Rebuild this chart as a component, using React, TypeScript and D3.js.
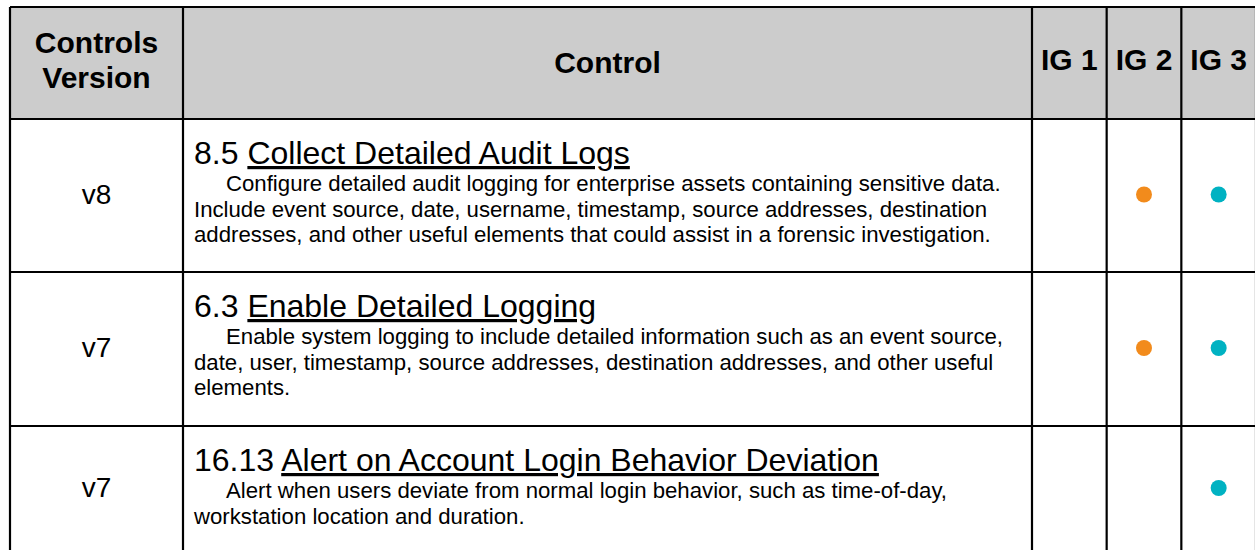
import React from "react";
import * as d3 from "d3";

// table content
const headers = ["Controls Version", "Control", "IG 1", "IG 2", "IG 3"];
const versions = ["v8", "v7", "v7"];
const controlIds = ["8.5", "6.3", "16.13"];
const controlTitles = [
  "Collect Detailed Audit Logs",
  "Enable Detailed Logging",
  "Alert on Account Login Behavior Deviation",
];
const descriptions = [
  [
    "Configure detailed audit logging for enterprise assets containing sensitive data.",
    "Include event source, date, username, timestamp, source addresses, destination",
    "addresses, and other useful elements that could assist in a forensic investigation.",
  ],
  [
    "Enable system logging to include detailed information such as an event source,",
    "date, user, timestamp, source addresses, destination addresses, and other useful",
    "elements.",
  ],
  [
    "Alert when users deviate from normal login behavior, such as time-of-day,",
    "workstation location and duration.",
  ],
];
const igGroups = ["IG 1", "IG 2", "IG 3"];
const ig1 = [false, false, false];
const ig2 = [true, true, false];
const ig3 = [true, true, true];

const W = 1255;
const H = 550;
const FONT = "'Liberation Sans', Arial, sans-serif";
const dotColor: Record<string, string> = { "IG 1": "#4f81bd", "IG 2": "#f28b1c", "IG 3": "#00b2c2" };

// layout: column / row edges
const left = 10;
const colVersion = 183;
const colControl = 1032;
const right = 1256;
const rowEdges = [7, 119, 272, 426, 552];

const App = () => {
  const igX = d3.scaleBand<string>().domain(igGroups).range([colControl, right]);
  const rowY = d3
    .scaleOrdinal<number, number>()
    .domain(d3.range(rowEdges.length))
    .range(rowEdges);

  const igFlags = [ig1, ig2, ig3];
  const headerMid = (rowY(0) + rowY(1)) / 2;

  return (
    <svg
      width={W}
      height={H}
      style={{ position: "absolute", left: 0, top: 0, background: "#fff" }}
      fontFamily={FONT}
    >
      {/* header background */}
      <rect x={left} y={rowY(0)} width={right - left} height={rowY(1) - rowY(0)} fill="#cccccc" />

      {/* header text */}
      <text x={(left + colVersion) / 2} textAnchor="middle" fontWeight="bold" fontSize={30}>
        <tspan x={(left + colVersion) / 2} y={53}>Controls</tspan>
        <tspan x={(left + colVersion) / 2} y={88}>Version</tspan>
      </text>
      <text
        x={(colVersion + colControl) / 2}
        y={headerMid + 10}
        textAnchor="middle"
        fontWeight="bold"
        fontSize={30}
      >
        {headers[1]}
      </text>
      {igGroups.map((g) => (
        <text
          key={g}
          x={(igX(g) as number) + igX.bandwidth() / 2}
          y={headerMid + 7}
          textAnchor="middle"
          fontWeight="bold"
          fontSize={30}
        >
          {g}
        </text>
      ))}

      {/* body rows */}
      {versions.map((v, i) => {
        const top = rowY(i + 1);
        const bottom = rowY(i + 2);
        const mid = (top + bottom) / 2;
        return (
          <g key={i}>
            <text x={(left + colVersion) / 2} y={mid + 8} textAnchor="middle" fontSize={28}>
              {v}
            </text>
            <text x={colVersion + 11} y={top + 45} fontSize={32}>
              {controlIds[i] + " "}
              <tspan textDecoration="underline">{controlTitles[i]}</tspan>
            </text>
            {descriptions[i].map((line, j) => (
              <text
                key={j}
                x={colVersion + 11 + (j === 0 ? 32 : 0)}
                y={top + 72 + j * 25.5}
                fontSize={22.2}
              >
                {line}
              </text>
            ))}
            {igGroups.map((g, k) =>
              igFlags[k][i] ? (
                <circle
                  key={g}
                  cx={(igX(g) as number) + igX.bandwidth() / 2}
                  cy={mid - 1}
                  r={8}
                  fill={dotColor[g]}
                />
              ) : null
            )}
          </g>
        );
      })}

      {/* grid lines */}
      <g stroke="#000" strokeWidth={2.2}>
        {rowEdges.map((y, i) => (
          <line key={"h" + i} x1={left} x2={right} y1={y} y2={y} />
        ))}
        {[left, colVersion, colControl, ...igGroups.slice(1).map((g) => igX(g) as number), right].map((x, i) => (
          <line key={"v" + i} x1={x} x2={x} y1={rowEdges[0]} y2={rowEdges[rowEdges.length - 1]} />
        ))}
      </g>
    </svg>
  );
};

export default App;
